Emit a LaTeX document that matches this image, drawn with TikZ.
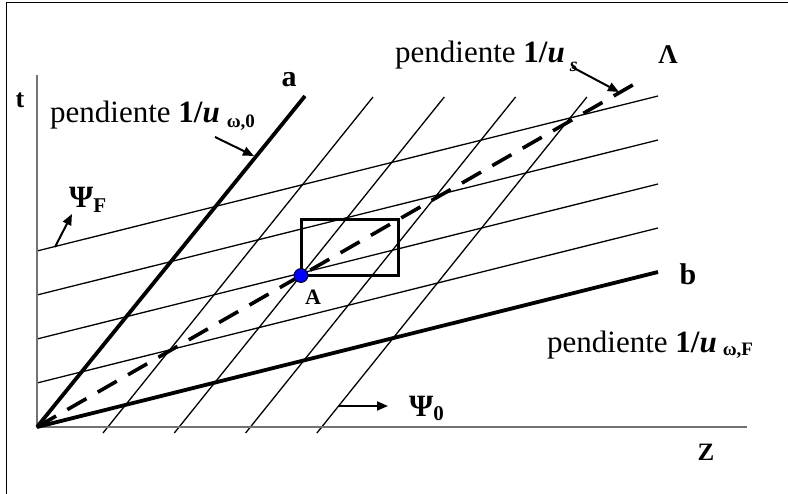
\documentclass[tikz,border=0pt]{standalone}
\usepackage{fontspec}
\setmainfont{Liberation Serif}
\usetikzlibrary{arrows.meta}
\begin{document}
\begin{tikzpicture}[x=1pt,y=-1pt,
  gridline/.style={line width=1.3pt,black},
  heavyline/.style={line width=3.8pt,black},
  axisline/.style={line width=1.5pt,black!55},
  dashline/.style={line width=3.6pt,black,dash pattern=on 22pt off 13pt},
  pointer/.style={line width=2pt,-{Triangle[length=11pt,width=9pt]}},
  lbl/.style={inner sep=0pt,anchor=base west,font=\fontsize{31}{36}\selectfont},
  bigbold/.style={inner sep=0pt,font=\fontsize{30}{34}\selectfont\bfseries},
  midbold/.style={inner sep=0pt,font=\fontsize{25}{28}\selectfont\bfseries}]
\useasboundingbox (0,0) rectangle (788,494);
% frame
\draw[line width=1.5pt] (6.5,2.5) rectangle (790,497);
% key points
\coordinate (O) at (37,427);
\coordinate (ttop) at (37,75);
\coordinate (zend) at (747,427);
\coordinate (aend) at (305,96);
\coordinate (bend) at (658,272);
\coordinate (lend) at (638,82);
\coordinate (A) at (301,275.5);
\coordinate (R) at (398,219.8);
% shallow lines (parallel to b)
\foreach \d [count=\i] in {44,88,132,176}{
  \coordinate (sl\i) at (37,427-\d);
  \coordinate (sr\i) at (658,272-\d);
  \draw[gridline] (sl\i) -- (sr\i);
}
% steep lines (parallel to a)
\foreach \x [count=\i] in {103,174.3,245.6,316.9}{
  \coordinate (tb\i) at (\x,433);
  \coordinate (tt\i) at (\x+270,97);
  \draw[gridline] (tb\i) -- (tt\i);
}
% axes
\draw[axisline] (ttop) -- (O) -- (zend);
% characteristic lines
\draw[heavyline] (O) -- (aend);
\draw[heavyline] (O) -- (bend);
\draw[dashline] (O) -- (lend);
% rectangle and point A
\draw[line width=3pt] (A) rectangle (R);
\fill[blue] (A) circle (7);
\draw[line width=0.8pt] (A) circle (7);
% labels
\node[bigbold] (la) at (289,80) {a};
\node[bigbold] (lb) at (688,274) {b};
\node[midbold,font=\fontsize{26}{28}\selectfont\bfseries] (lt) at (20,100) {t};
\node[midbold] (lz) at (706,452) {Z};
\node[midbold,font=\fontsize{22}{26}\selectfont\bfseries] (lA) at (313,297) {A};
\node[bigbold,font=\fontsize{27}{32}\selectfont\bfseries] (lL) at (668,55) {Λ};
\node[lbl] (p0) at (50,123) {pendiente \textbf{1/\textit{u}}\hspace{7pt}\raisebox{-5pt}{\fontsize{19}{20}\selectfont\bfseries ω,0}};
\node[lbl] (ps) at (395,63) {pendiente \textbf{1/\textit{u}}\hspace{5pt}\raisebox{-9pt}{\fontsize{20}{21}\selectfont\bfseries\itshape s}};
\node[lbl] (pF) at (547,353) {pendiente \textbf{1/\textit{u}}\hspace{6pt}\raisebox{-3pt}{\fontsize{19}{20}\selectfont\bfseries ω,F}};
\node[inner sep=0pt,anchor=base west,font=\fontsize{31}{34}\selectfont\bfseries] (psiF) at (69,208) {Ψ\raisebox{-5pt}{\fontsize{21}{22}\selectfont\bfseries F}};
\node[inner sep=0pt,anchor=base west,font=\fontsize{31}{34}\selectfont\bfseries] (psi0) at (409,417) {Ψ\raisebox{-4pt}{\fontsize{21}{22}\selectfont\bfseries 0}};
% pointers
\coordinate (p0s) at (215,137);
\coordinate (p0e) at (254,156);
\draw[pointer] (p0s) -- (p0e);
\coordinate (pss) at (572,67);
\coordinate (pse) at (619,92);
\draw[pointer] (pss) -- (pse);
\coordinate (pFs) at (55,247);
\coordinate (pFe) at (72,214);
\draw[pointer] (pFs) -- (pFe);
\coordinate (p0a) at (339,406);
\coordinate (p0b) at (388,406);
\draw[pointer] (p0a) -- (p0b);
\end{tikzpicture}
\end{document}
